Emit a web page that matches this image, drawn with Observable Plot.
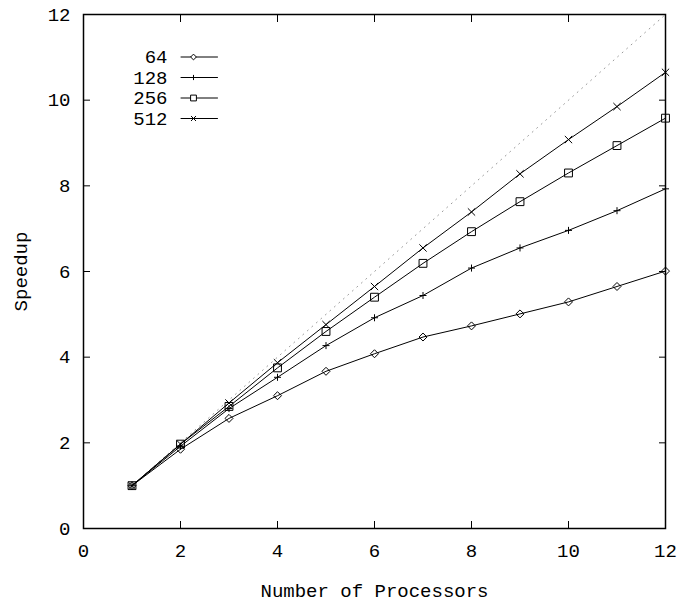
<!DOCTYPE html>
<html><head><meta charset="utf-8">
<script src="https://cdn.jsdelivr.net/npm/d3@7"></script>
<script src="https://cdn.jsdelivr.net/npm/@observablehq/plot@0.6"></script>
<style>body{margin:0;background:#fff}</style>
</head><body><div id="chart"></div>
<script>
const processors = [1, 2, 3, 4, 5, 6, 7, 8, 9, 10, 11, 12];
const seriesNames = ["64", "128", "256", "512"];
const speedup64  = [1, 1.85, 2.57, 3.10, 3.67, 4.08, 4.47, 4.73, 5.01, 5.29, 5.65, 6.01];
const speedup128 = [1, 1.92, 2.80, 3.53, 4.27, 4.92, 5.44, 6.08, 6.55, 6.96, 7.42, 7.93];
const speedup256 = [1, 1.97, 2.85, 3.75, 4.60, 5.40, 6.19, 6.93, 7.63, 8.30, 8.94, 9.58];
const speedup512 = [1, 1.97, 2.93, 3.87, 4.76, 5.65, 6.55, 7.39, 8.28, 9.08, 9.85, 10.65];
const idealProcessors = [1, 12];
const xTicks = [0, 2, 4, 6, 8, 10, 12];
const yTicks = [0, 2, 4, 6, 8, 10, 12];
const xLabel = "Number of Processors";
const yLabel = "Speedup";
const symbols = ["diamond2", "plus", "square2", "times"];
const markerR = [3.6, 2.4, 5.0, 3.4];
const legendMarkerR = [2.6, 1.8, 3.7, 2.4];

const seriesValues = [speedup64, speedup128, speedup256, speedup512];
const rows = seriesNames.flatMap((name, i) =>
  processors.map((p, j) => ({series: name, p, s: seriesValues[i][j]})));
const ideal = idealProcessors.map(p => ({p, s: p}));

const lineShape = {draw(ctx, l) { ctx.moveTo(0, 0); ctx.lineTo(0, -l); }};

const dotMarks = seriesNames.map((name, i) =>
  Plot.dot(rows.filter(d => d.series === name), {x: "p", y: "s", symbol: symbols[i], r: markerR[i], stroke: "black", fill: "none", strokeWidth: 1}));

const legendMarks = seriesNames.flatMap((name, i) => {
  const dy = 42.5 + i * 20.5;
  return [
    Plot.text([name], {frameAnchor: "top-left", dx: 84, dy, text: d => d, textAnchor: "end", lineAnchor: "middle", fill: "black"}),
    Plot.vector([name], {frameAnchor: "top-left", dx: 97.5, dy, length: 36.5, rotate: 90, anchor: "start", shape: lineShape, stroke: "black", strokeWidth: 1}),
    Plot.dot([name], {frameAnchor: "top-left", dx: 110, dy, symbol: symbols[i], r: legendMarkerR[i], stroke: "black", fill: "white", strokeWidth: 1})
  ];
});

const chart = Plot.plot({
  width: 680,
  height: 606,
  marginLeft: 83,
  marginRight: 15,
  marginTop: 14,
  marginBottom: 78,
  style: {fontFamily: "'Liberation Mono', monospace", fontSize: "19px", color: "black", background: "white"},
  x: {domain: [0, 12]},
  y: {domain: [0, 12]},
  marks: [
    Plot.line(ideal, {x: "p", y: "s", stroke: "#999", strokeWidth: 1, strokeDasharray: "1,5"}),
    Plot.line(rows, {x: "p", y: "s", z: "series", stroke: "black", strokeWidth: 1}),
    ...dotMarks,
    Plot.axisX({ticks: xTicks, tickSize: -7, tickPadding: 22, label: xLabel, labelAnchor: "center", labelArrow: "none", labelOffset: 68, fill: "black"}),
    Plot.axisX({anchor: "top", ticks: xTicks, tickSize: -7, tickFormat: () => "", label: null}),
    Plot.axisY({ticks: yTicks, tickSize: -7, tickPadding: 20, label: yLabel, labelAnchor: "center", labelArrow: "none", labelOffset: 70, fill: "black"}),
    Plot.axisY({anchor: "right", ticks: yTicks, tickSize: -7, tickFormat: () => "", label: null}),
    Plot.frame({stroke: "black", strokeWidth: 1.5}),
    ...legendMarks
  ]
});
document.getElementById("chart").appendChild(chart);
</script>
</body></html>
